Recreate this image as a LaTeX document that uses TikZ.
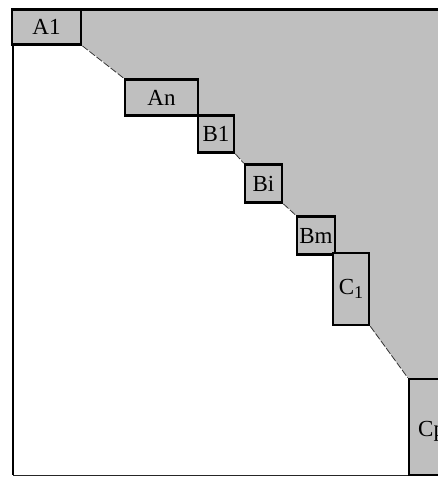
\documentclass[tikz,border=0pt]{standalone}
\usepackage{fontspec}
\setmainfont{Liberation Serif}
\begin{document}
\begin{tikzpicture}[x=1pt,y=-1pt,
  blk/.style={draw=black, fill=gray!50, line width=2.6pt, inner sep=0pt,
     minimum width=#1},
  blk/.default=36pt,
  diag/.style={draw=black!80, line width=0.8pt, dash pattern=on 7pt off 2pt},
  txt/.style={font=\fontsize{23}{26}\selectfont}]
\useasboundingbox (0,0) rectangle (438,477);
\clip (0,0) rectangle (438,477);
% shaded upper triangle region
\fill[gray!50] (81,9) -- (445,9) -- (445,379) -- (409,379) -- (369,325)
  -- (333,325) -- (333,253) -- (297,254) -- (297,216) -- (282,202)
  -- (245,202) -- (245,164) -- (234,152) -- (198,152) -- (198,115)
  -- (125,115) -- (125,79) -- (81,44) -- cycle;
% frame
\draw[line width=2.4pt] (12,9.5) -- (445,9.5);
\draw[line width=2.6pt] (13,44) -- (13,475);
\draw[line width=1.4pt, black!85] (13,475.3) -- (445,475.3);
% blocks
\node[blk=69pt, minimum height=35pt, txt] (A1) at (46.5,27) {A1};
\node[blk=73pt, minimum height=36pt, txt] (An) at (161.5,97.5) {An};
\node[blk=36pt, minimum height=37pt, txt] (B1) at (216,134) {B1};
\node[blk=37pt, minimum height=38pt, txt] (Bi) at (263.5,183.5) {Bi};
\node[blk=38pt, minimum height=38pt, txt] (Bm) at (316,235.5) {Bm};
\node[blk=36pt, minimum height=72pt, txt] (C1) at (351,289) {C\raisebox{-4pt}{\fontsize{18}{20}\selectfont 1}};
\node[blk=64pt, minimum height=96pt,
  label={[txt, anchor=west, xshift=7pt, yshift=-4pt]west:Cp}] (Cp) at (441,427) {};
% dashed diagonal connectors
\draw[diag] (A1.south east) -- (An.north west);
\draw[diag] (B1.south east) -- (Bi.north west);
\draw[diag] (Bi.south east) -- (Bm.north west);
\draw[diag] (C1.south east) -- (Cp.north west);
\end{tikzpicture}
\end{document}
